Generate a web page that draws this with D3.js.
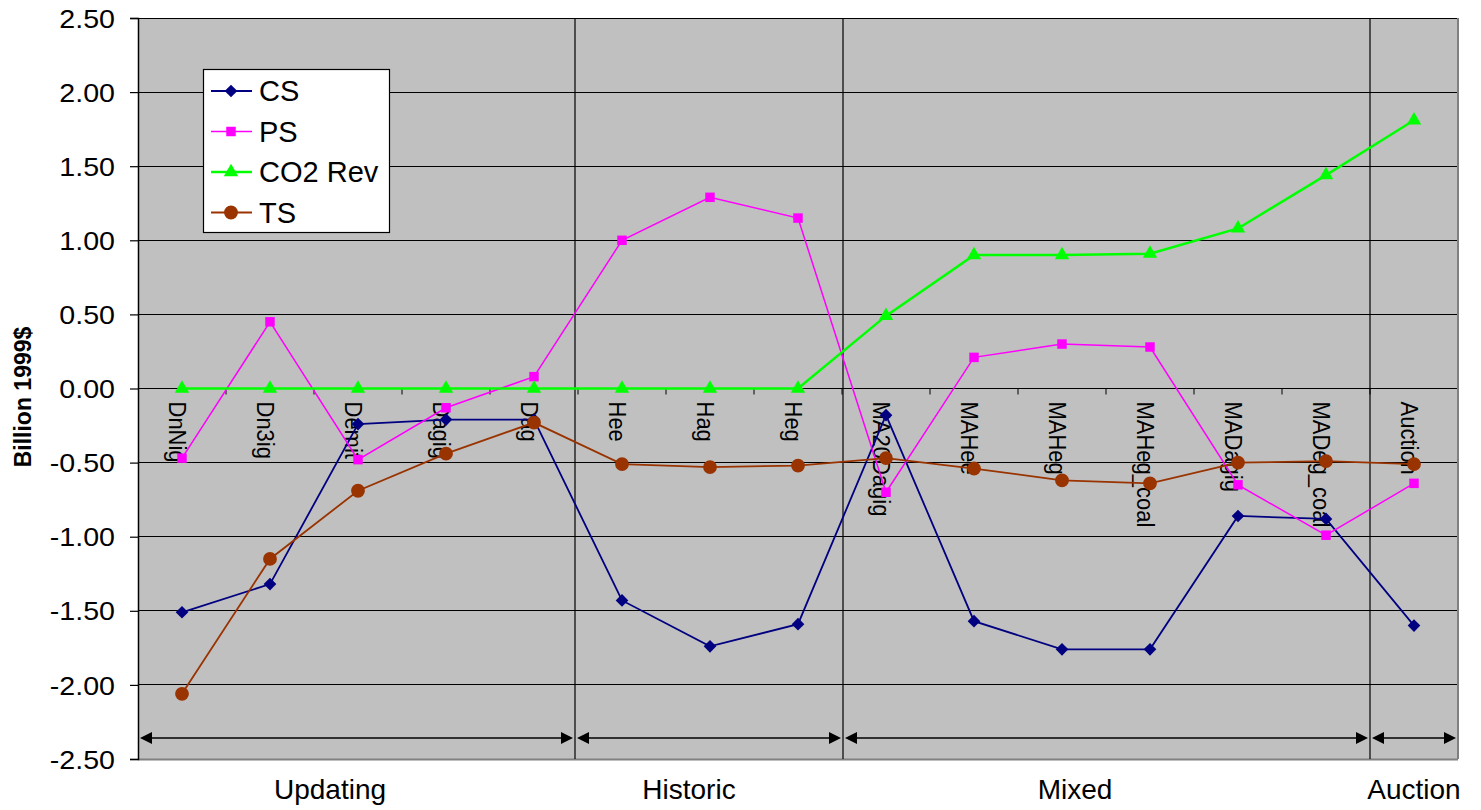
<!DOCTYPE html>
<html>
<head>
<meta charset="utf-8">
<script src="https://cdn.jsdelivr.net/npm/d3@7"></script>
<style>
  html, body { margin: 0; padding: 0; background: #fff; }
  svg { display: block; font-family: "Liberation Sans", Arial, sans-serif; }
</style>
</head>
<body>
<svg id="chart" width="1481" height="810"></svg>
<script>
const categories = ["DnNig", "Dn3ig", "Demit", "Dagig", "Dag", "Hee", "Hag", "Heg",
  "MA20Dagig", "MAHee", "MAHeg", "MAHeg_coal", "MADagig", "MADeg_coal", "Auction"];
const csValues  = [-1.51, -1.32, -0.24, -0.21, -0.21, -1.43, -1.74, -1.59, -0.18, -1.57, -1.76, -1.76, -0.86, -0.88, -1.60];
const psValues  = [-0.47, 0.45, -0.48, -0.13, 0.08, 1.00, 1.29, 1.15, -0.70, 0.21, 0.30, 0.28, -0.65, -0.99, -0.64];
const co2Values = [0, 0, 0, 0, 0, 0, 0, 0, 0.49, 0.90, 0.90, 0.91, 1.08, 1.44, 1.81];
const tsValues  = [-2.06, -1.15, -0.69, -0.44, -0.23, -0.51, -0.53, -0.52, -0.47, -0.54, -0.62, -0.64, -0.50, -0.49, -0.51];
const seriesNames = ["CS", "PS", "CO2 Rev", "TS"];
const groupNames = ["Updating", "Historic", "Mixed", "Auction"];
const groupSizes = [5, 3, 6, 1];
const yTicks = [2.5, 2.0, 1.5, 1.0, 0.5, 0, -0.5, -1.0, -1.5, -2.0, -2.5];
const yTitle = "Billion 1999$";

const svg = d3.select("#chart");
const L = 138, R = 1458, T = 18, B = 759;

const x = d3.scaleBand().domain(categories).range([L, R]).padding(0);
const xc = c => x(c) + x.bandwidth() / 2;
const y = d3.scaleLinear().domain([-2.5, 2.5]).range([B, T]);

// plot background
svg.append("rect").attr("x", L).attr("y", T).attr("width", R - L).attr("height", B - T)
  .attr("fill", "#C0C0C0");

// gridlines
svg.append("g").selectAll("line").data(yTicks).join("line")
  .attr("x1", L).attr("x2", R)
  .attr("y1", d => y(d)).attr("y2", d => y(d))
  .attr("stroke", "#000").attr("stroke-width", 1).attr("shape-rendering", "crispEdges");

// plot border (right/bottom gray)
svg.append("line").attr("x1", R).attr("x2", R).attr("y1", T).attr("y2", B)
  .attr("stroke", "#808080").attr("stroke-width", 2);
svg.append("line").attr("x1", L).attr("x2", R).attr("y1", B + 0.5).attr("y2", B + 0.5)
  .attr("stroke", "#808080").attr("stroke-width", 2);

// y axis
const fmt = d => d3.format(".2f")(d).replace("\u2212", "-");
const yAxis = d3.axisLeft(y).tickValues(yTicks).tickFormat(fmt).tickSize(8).tickPadding(0);
const yg = svg.append("g").attr("transform", `translate(${L},0)`).call(yAxis);
yg.select(".domain").attr("stroke", "#000").attr("stroke-width", 1.5);
yg.selectAll(".tick line").attr("stroke", "#000").attr("stroke-width", 1.2);
yg.selectAll(".tick text").attr("font-size", 26).attr("fill", "#000")
  .attr("font-family", "'Liberation Sans', Arial, sans-serif")
  .attr("x", 0).attr("dy", "0.35em")
  .attr("transform", "translate(-23,0) scale(1.1,1)");

// y title
svg.append("text").attr("transform", `translate(31,397) rotate(-90)`)
  .attr("text-anchor", "middle").attr("font-size", 23).attr("font-weight", "bold")
  .text(yTitle);

// x axis at 0 with ticks at category boundaries
const boundaries = categories.map(c => x(c)).concat([R]);
svg.append("g").selectAll("line").data(boundaries.slice(1, -1)).join("line")
  .attr("x1", d => d).attr("x2", d => d)
  .attr("y1", y(0)).attr("y2", y(0) + 6)
  .attr("stroke", "#000").attr("stroke-width", 1);

// category labels (rotated)
svg.append("g").selectAll("text").data(categories).join("text")
  .attr("transform", c => `translate(${xc(c) - 5},${y(0) + 13}) scale(1.12,1) rotate(90)`)
  .attr("font-size", 22).attr("dominant-baseline", "central")
  .attr("text-anchor", "start").text(d => d);

// group separators, arrows, and labels
let start = 0;
const groups = groupNames.map((g, i) => {
  const s = start, e = start + groupSizes[i];
  start = e;
  return { name: g, x0: x(categories[s]), x1: e < categories.length ? x(categories[e]) : R };
});
const sepShift = [0, -3, 1, 0];
const labelShift = [-28, -21, -31, 0];
const arrowY = 738;
groups.forEach((g, i) => {
  const gx0 = g.x0 + sepShift[i];
  const gx1 = i < groups.length - 1 ? groups[i + 1].x0 + sepShift[i + 1] : g.x1;
  if (i > 0) {
    svg.append("line").attr("x1", gx0).attr("x2", gx0).attr("y1", T).attr("y2", B)
      .attr("stroke", "#000").attr("stroke-width", 1.2);
  }
  const a0 = gx0 + 2, a1 = gx1 - 2;
  svg.append("line").attr("x1", a0 + 8).attr("x2", a1 - 8).attr("y1", arrowY).attr("y2", arrowY)
    .attr("stroke", "#000").attr("stroke-width", 1.5);
  svg.append("path").attr("d", `M${a0},${arrowY} L${a0 + 12},${arrowY - 6} L${a0 + 12},${arrowY + 6} Z`).attr("fill", "#000");
  svg.append("path").attr("d", `M${a1},${arrowY} L${a1 - 12},${arrowY - 6} L${a1 - 12},${arrowY + 6} Z`).attr("fill", "#000");
  svg.append("text").attr("x", (g.x0 + g.x1) / 2 + labelShift[i]).attr("y", 799)
    .attr("text-anchor", "middle").attr("font-size", 28).text(g.name);
});

// series
const series = [
  { name: seriesNames[0], values: csValues,  color: "#000080", width: 1.8, sym: d3.symbolSquare, size: 80, rot: 45 },
  { name: seriesNames[1], values: psValues,  color: "#FF00FF", width: 1.5, sym: d3.symbolSquare, size: 90, rot: 0 },
  { name: seriesNames[2], values: co2Values, color: "#00FF00", width: 2.5, sym: d3.symbolTriangle, size: 90, rot: 0 },
  { name: seriesNames[3], values: tsValues,  color: "#993300", width: 1.8, sym: d3.symbolCircle, size: 150, rot: 0 }
];
const line = d3.line().x((d, i) => xc(categories[i])).y(d => y(d));
series.forEach(s => {
  svg.append("path").datum(s.values).attr("d", line)
    .attr("fill", "none").attr("stroke", s.color).attr("stroke-width", s.width);
  svg.append("g").selectAll("path").data(s.values).join("path")
    .attr("transform", (d, i) => `translate(${xc(categories[i])},${y(d)}) rotate(${s.rot})`)
    .attr("d", d3.symbol().type(s.sym).size(s.size)).attr("fill", s.color);
});

// legend
const lg = svg.append("g");
lg.append("rect").attr("x", 203.5).attr("y", 69.5).attr("width", 186).attr("height", 163)
  .attr("fill", "#fff").attr("stroke", "#000").attr("stroke-width", 1.2);
series.forEach((s, i) => {
  const ly = 91 + i * 40.5;
  lg.append("line").attr("x1", 211).attr("x2", 252).attr("y1", ly).attr("y2", ly)
    .attr("stroke", s.color).attr("stroke-width", s.width);
  lg.append("path").attr("transform", `translate(231,${ly}) rotate(${s.rot})`)
    .attr("d", d3.symbol().type(s.sym).size(s.size)).attr("fill", s.color);
  lg.append("text").attr("x", 259).attr("y", ly).attr("dominant-baseline", "central")
    .attr("font-size", 29).text(s.name);
});
</script>
</body>
</html>
